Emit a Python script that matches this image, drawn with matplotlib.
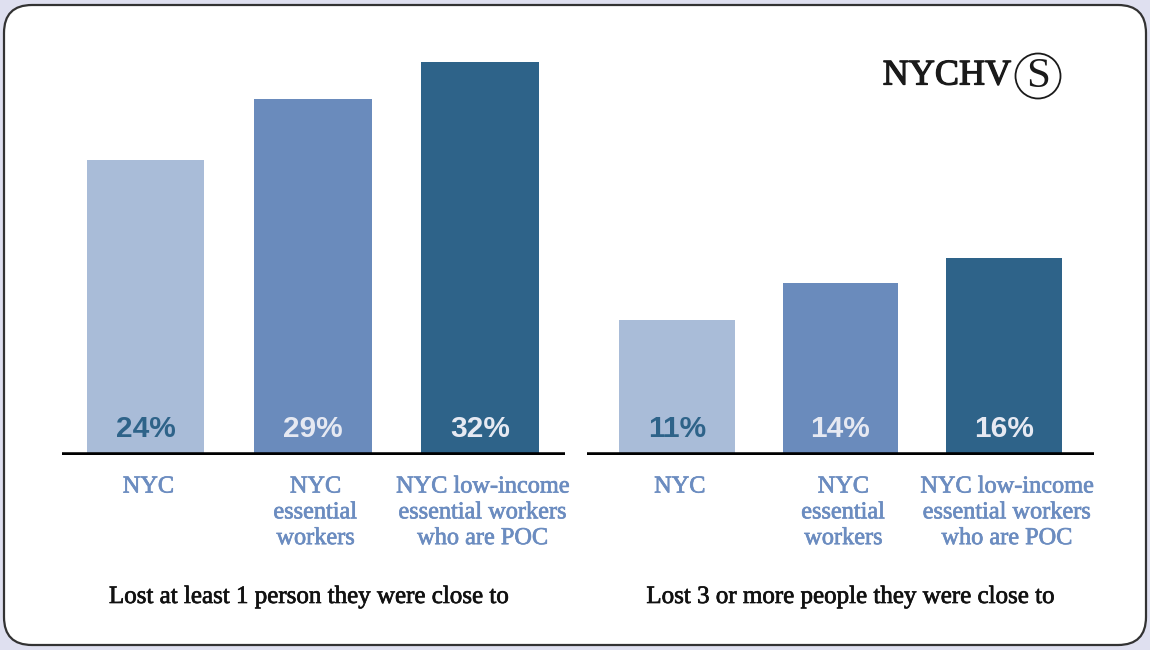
import matplotlib
matplotlib.use("Agg")
import matplotlib.pyplot as plt
import matplotlib.patheffects as pe
from matplotlib.patches import FancyBboxPatch, Circle

# ---- data ----
categories = ["NYC", "NYC\nessential\nworkers", "NYC low-income\nessential workers\nwho are POC"]
lost_one = [24, 29, 32]
lost_three = [11, 14, 16]
panel_titles = ["Lost at least 1 person they were close to", "Lost 3 or more people they were close to"]
value_labels_one = ["24%", "29%", "32%"]
value_labels_three = ["11%", "14%", "16%"]

bar_colors = ["#a9bcd8", "#6a8bbc", "#2e6389"]
label_colors = ["#2e6389", "#e6e9f2", "#e6e9f2"]
cat_color = "#6b8cc0"

W, H = 1150, 650
fig = plt.figure(figsize=(W / 100, H / 100), dpi=100)
fig.patch.set_facecolor("#dfe0f0")

# background rounded panel in pixel coordinates
bg = fig.add_axes([0, 0, 1, 1])
bg.set_xlim(0, W)
bg.set_ylim(H, 0)
bg.axis("off")
bg.add_patch(FancyBboxPatch((4 + 28, 5 + 28), W - 8 - 56, H - 10 - 56,
                            boxstyle="round,pad=28", facecolor="white",
                            edgecolor="#333333", linewidth=1.6))

thick = [pe.withStroke(linewidth=0.9, foreground="#1a1a1a")]
# logo
bg.text(1011, 76, "NYCHV", ha="right", va="center", fontsize=26,
        family="Liberation Serif", color="#1a1a1a", path_effects=thick)
bg.add_patch(Circle((1038, 76), 22.5, facecolor="none", edgecolor="#1a1a1a", linewidth=1.3))
bg.text(1038, 77, "S", ha="center", va="center", fontsize=31,
        family="Liberation Serif", color="#1a1a1a")

title_fx = [pe.withStroke(linewidth=0.5, foreground="#111111")]
cat_fx = [pe.withStroke(linewidth=0.5, foreground=cat_color)]

def panel(left_px, right_px, xlim, values, vlabels, title, title_x):
    base_px = 455
    height_px = 430
    ax = fig.add_axes([left_px / W, (H - base_px) / H, (right_px - left_px) / W, height_px / H])
    ax.set_facecolor("none")
    ax.set_xlim(*xlim)
    ax.set_ylim(0, 35)
    x = list(range(len(values)))
    ax.bar(x, values, width=0.705, color=bar_colors, zorder=2)
    ax.axhline(0, color="black", linewidth=4.0, zorder=3)
    for s in ax.spines.values():
        s.set_visible(False)
    ax.set_xticks([])
    ax.set_yticks([])
    for i, (lab, c) in enumerate(zip(vlabels, label_colors)):
        ax.annotate(lab, xy=(i, 0), xytext=(0, 19.0), textcoords="offset points",
                    ha="center", va="center", fontsize=21.5, fontweight="bold",
                    family="Liberation Sans", color=c, zorder=4)
    for i, cat in enumerate(categories):
        ax.annotate(cat, xy=(i, 0), xytext=(2, -15.5), textcoords="offset points",
                    ha="center", va="top", fontsize=17.5, family="Liberation Serif",
                    color=cat_color, linespacing=1.30, annotation_clip=False,
                    path_effects=cat_fx)
    bg.text(title_x, 597, title, ha="center", va="center", fontsize=18,
            family="Liberation Serif", color="#111111", path_effects=title_fx)
    return ax

panel(62, 565, (-0.5, 2.51), lost_one, value_labels_one, panel_titles[0], 309)
panel(587, 1094, (-0.55, 2.55), lost_three, value_labels_three, panel_titles[1], 851)

fig.savefig("out.png", dpi=100, facecolor=fig.get_facecolor())
